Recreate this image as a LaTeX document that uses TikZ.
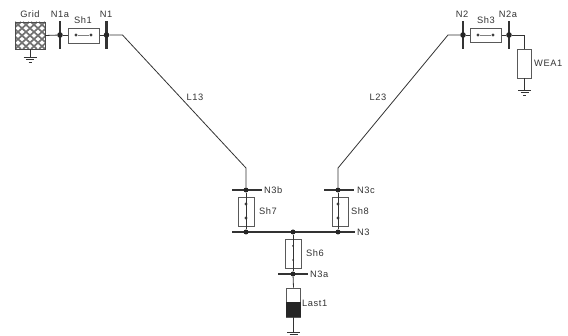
\documentclass[tikz,border=0pt]{standalone}
\usepackage{fontspec}
\setmainfont[LetterSpace=6]{Liberation Sans}
\usetikzlibrary{positioning}

\tikzset{
  wire/.style={draw=black!80,line width=0.8pt},
  busv/.style={fill=black!80,inner sep=0pt,minimum width=2.4pt,minimum height=28pt},
  bush/.style={fill=black!80,inner sep=0pt,minimum width=30pt,minimum height=1.8pt},
  dotnode/.style={circle,fill=black!85,inner sep=0pt,minimum size=5.6pt},
  smalldot/.style={circle,fill=black!75,inner sep=0pt,minimum size=3.2pt},
  switchh/.style={draw=black!65,line width=0.9pt,inner sep=0pt,minimum width=31pt,minimum height=14.5pt},
  switchv/.style={draw=black!65,line width=0.9pt,inner sep=0pt,minimum width=16pt,minimum height=29pt},
  loadbox/.style={draw=black!65,line width=0.9pt,fill=white,inner sep=0pt,minimum width=13.5pt,minimum height=29pt},
  lbl/.style={font=\fontsize{9.3}{11}\selectfont,text=black!80,inner sep=0pt}
}

\begin{document}
\begin{tikzpicture}[x=1pt,y=-1pt]
            \useasboundingbox (0,0) rectangle (568,336);

            % grid feed
            \node[fill=white,inner sep=0pt,minimum width=30pt,minimum height=27pt] (grid) at (30,35.5) {};
            \begin{scope}
                \clip (15,22) rectangle (45,49);
                \foreach \k in {-32,-24,...,48} {
                    \draw[black!55,line width=1.7pt] (15+\k,22) -- ++(30,27);
                    \draw[black!55,line width=1.7pt] (45-\k,22) -- ++(-30,27);
                }
            \end{scope}
            \draw[black!70,line width=0.9pt] (15,22) rectangle (45,49);

            % buses
            \node[busv] (N1a) at (60,35) {};
            \node[busv] (N1) at (106.5,35) {};
            \node[busv] (N2) at (463,35) {};
            \node[busv] (N2a) at (509,35) {};
            \node[bush] (N3b) at (247,190) {};
            \node[bush] (N3c) at (339,190) {};
            \node[bush,minimum width=123pt,minimum height=2.6pt] (N3) at (293.5,232) {};
            \node[bush] (N3a) at (293,274) {};

            % junctions
            \node[dotnode] (j1a) at (60,35) {};
            \node[dotnode] (j1) at (106.5,35) {};
            \node[dotnode] (j2) at (463,35) {};
            \node[dotnode] (j2a) at (509,35) {};
            \node[dotnode,minimum size=5pt] (j3b) at (246,190) {};
            \node[dotnode,minimum size=5pt] (j3c) at (338,190) {};
            \node[dotnode,minimum size=5pt] (j3l) at (246,232) {};
            \node[dotnode,minimum size=5pt] (j3r) at (338,232) {};
            \node[dotnode,minimum size=5pt] (j3m) at (293,232) {};
            \node[dotnode,minimum size=5pt] (j3a) at (293,274) {};

            % switches
            \node[switchh] (Sh1) at (84,36) {};
            \node[switchh] (Sh3) at (486,35.5) {};
            \node[switchv] (Sh7) at (246,211.5) {};
            \node[switchv] (Sh8) at (340,211.5) {};
            \node[switchv] (Sh6) at (293,253.5) {};

            % contacts in the switches
            \node[smalldot] (s1l) at (76,35) {};
            \node[smalldot] (s1r) at (91,35) {};
            \node[smalldot] (s3l) at (478,35) {};
            \node[smalldot] (s3r) at (493,35) {};
            \node[smalldot] (s7t) at (246,204) {};
            \node[smalldot] (s7b) at (246,218) {};
            \node[smalldot] (s8t) at (338,204) {};
            \node[smalldot] (s8b) at (338,218) {};
            \node[smalldot,minimum size=2pt] (s6t) at (293,246) {};
            \node[smalldot,minimum size=2pt] (s6b) at (293,260) {};

            % loads
            \node[loadbox] (WEA1) at (524.5,63.5) {};
            \node[loadbox] (Last1) at (293.5,302.5) {};
            \fill[black!85] (Last1.west |- 0,302) rectangle (Last1.south east);

            % free ends and bends
            \coordinate (b1) at (122.5,35);
            \coordinate (b13) at (246,168);
            \coordinate (b2) at (448,35);
            \coordinate (b23) at (338,168);
            \coordinate (b2a) at (524.5,35);
            \coordinate (g0) at (30,57);
            \coordinate (g1) at (524.5,90);
            \coordinate (g2) at (293.5,332);

            % connectors
            \draw[wire] (grid) ++(15,0) -- (j1a);
            \draw[wire] (j1a) -- (Sh1.west |- j1a);
            \draw[wire] (Sh1.east |- j1) -- (j1);
            \draw[wire,black!50,line width=0.5pt] (s1l) -- (s1r);
            \draw[wire] (j1) -- (b1) -- (b13) -- (j3b);
            \draw[wire] (j2) -- (b2) -- (b23) -- (j3c);
            \draw[wire] (j2) -- (Sh3.west |- j2);
            \draw[wire,black!50,line width=0.5pt] (s3l) -- (s3r);
            \draw[wire] (Sh3.east |- j2a) -- (j2a);
            \draw[wire] (j2a) -- (b2a) -- (WEA1.north);
            \draw[wire] (WEA1.south) -- (g1);
            \draw[wire] (j3b) -- (j3l);
            \draw[wire] (j3c) -- (j3r);
            \draw[wire] (j3m) -- (j3a);
            \draw[wire] (j3a) -- (Last1.north);
            \draw[wire] (Last1.south) -- (g2);
            \draw[wire] (grid.south) -- (g0);

            % earth symbols
            \foreach \g in {g0,g1,g2} {
                \draw[wire] (\g) ++(-6.5,0) -- ++(13,0);
                \draw[wire] (\g) ++(-4,2.5) -- ++(8,0);
                \draw[wire] (\g) ++(-1.5,5) -- ++(3,0);
            }

            % labels
            \node[lbl] (tGrid) at (30,14) {Grid};
            \node[lbl] (tN1a) at (60,14) {N1a};
            \node[lbl] (tSh1) at (83,20) {Sh1};
            \node[lbl] (tN1) at (106,14) {N1};
            \node[lbl] (tN2) at (462,14) {N2};
            \node[lbl] (tSh3) at (486,20) {Sh3};
            \node[lbl] (tN2a) at (508,14) {N2a};
            \node[lbl,anchor=west] (tWEA1) at (534,63) {WEA1};
            \node[lbl] (tL13) at (195,97) {L13};
            \node[lbl] (tL23) at (378,97) {L23};
            \node[lbl,anchor=west] (tN3b) at (264,190) {N3b};
            \node[lbl,anchor=west] (tN3c) at (357,190) {N3c};
            \node[lbl,anchor=west] (tN3) at (357,232) {N3};
            \node[lbl,anchor=west] (tN3a) at (310,274) {N3a};
            \node[lbl,anchor=west] (tSh7) at (259,211) {Sh7};
            \node[lbl,anchor=west] (tSh8) at (351,211) {Sh8};
            \node[lbl,anchor=west] (tSh6) at (306,253) {Sh6};
            \node[lbl,anchor=west] (tLast1) at (302,303) {Last1};
\end{tikzpicture}
\end{document}
